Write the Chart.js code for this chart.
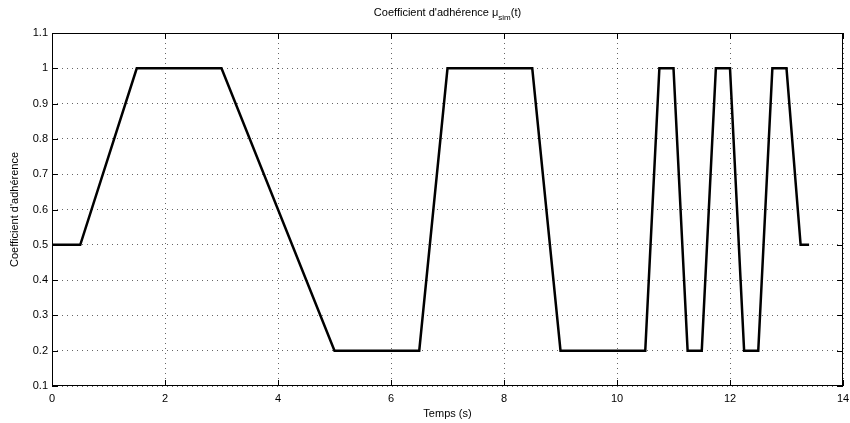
<!DOCTYPE html>
<html>
<head>
<meta charset="utf-8">
<script src="https://cdn.jsdelivr.net/npm/chart.js@4"></script>
<style>
  html, body { margin: 0; padding: 0; background: #fff; }
  #wrap { width: 850px; height: 423px; }
</style>
</head>
<body>
<div id="wrap"><canvas id="chart" width="850" height="423"></canvas></div>
<script>
/* ================= DATA ================= */
const timeS = [0, 0.5, 1.5, 3, 5, 6.5, 7, 8.5, 9, 10.5, 10.75, 11, 11.25, 11.5, 11.75, 12, 12.25, 12.5, 12.75, 13, 13.25, 13.4];
const mu = [0.5, 0.5, 1, 1, 0.2, 0.2, 1, 1, 0.2, 0.2, 1, 1, 0.2, 0.2, 1, 1, 0.2, 0.2, 1, 1, 0.5, 0.5];
const xTicks = [0, 2, 4, 6, 8, 10, 12, 14];
const yTicks = [0.1, 0.2, 0.3, 0.4, 0.5, 0.6, 0.7, 0.8, 0.9, 1, 1.1];

const FONT = "'Liberation Sans', Arial, sans-serif";

/* ================= PLUGINS ================= */
// box on all four sides + inward ticks (matlab look)
const boxPlugin = {
  id: "box",
  afterDraw(chart) {
    const { ctx, chartArea: a, scales } = chart;
    ctx.save();
    ctx.strokeStyle = "#000";
    ctx.lineWidth = 1;
    ctx.strokeRect(a.left + 0.5, a.top + 0.5, a.right - a.left - 1, a.bottom - a.top - 1);
    ctx.beginPath();
    xTicks.forEach(v => {
      const x = Math.round(scales.x.getPixelForValue(v)) + 0.5;
      ctx.moveTo(x, a.bottom); ctx.lineTo(x, a.bottom - 6);
      ctx.moveTo(x, a.top); ctx.lineTo(x, a.top + 6);
    });
    yTicks.forEach(v => {
      const y = Math.round(scales.y.getPixelForValue(v)) + 0.5;
      ctx.moveTo(a.left, y); ctx.lineTo(a.left + 6, y);
      ctx.moveTo(a.right, y); ctx.lineTo(a.right - 6, y);
    });
    ctx.stroke();
    ctx.restore();
  }
};

// title with the "sim" subscript
const titlePlugin = {
  id: "subTitle",
  afterDraw(chart) {
    const { ctx, chartArea: a } = chart;
    const main = "Coefficient d'adhérence μ";
    const sub = "sim";
    const tail = "(t)";
    ctx.save();
    ctx.fillStyle = "#000";
    ctx.textBaseline = "alphabetic";
    ctx.font = "11px " + FONT;
    const w1 = ctx.measureText(main).width;
    const w3 = ctx.measureText(tail).width;
    ctx.font = "8px " + FONT;
    const w2 = ctx.measureText(sub).width;
    let x = (a.left + a.right) / 2 - (w1 + w2 + w3) / 2;
    const y = 16;
    ctx.font = "11px " + FONT;
    ctx.fillText(main, x, y);
    x += w1;
    ctx.font = "8px " + FONT;
    ctx.fillText(sub, x, y + 4);
    x += w2;
    ctx.font = "11px " + FONT;
    ctx.fillText(tail, x, y);
    ctx.restore();
  }
};

/* ================= CHART ================= */
new Chart(document.getElementById("chart"), {
  type: "scatter",
  data: {
    datasets: [{
      data: timeS.map((t, i) => ({ x: t, y: mu[i] })),
      showLine: true,
      borderColor: "#000",
      borderWidth: 2.5,
      pointRadius: 0,
      tension: 0
    }]
  },
  options: {
    responsive: false,
    animation: false,
    layout: { padding: { top: 33, right: 0, left: 0, bottom: 0 } },
    plugins: { legend: { display: false }, tooltip: { enabled: false } },
    scales: {
      x: {
        type: "linear",
        min: 0, max: 14,
        afterBuildTicks: s => { s.ticks = xTicks.map(v => ({ value: v })); },
        afterFit: s => { s.height = 37; s.paddingRight = 7; s.paddingLeft = 0; },
        grid: { color: "rgba(0,0,0,0.6)", drawTicks: false, lineWidth: 1 },
        border: { display: false, dash: [1, 4] },
        ticks: { color: "#000", font: { family: FONT, size: 11 }, padding: 6, maxRotation: 0 },
        title: { display: true, text: "Temps (s)", color: "#000", font: { family: FONT, size: 11 }, padding: { top: 0, bottom: 2 } }
      },
      y: {
        min: 0.1, max: 1.1,
        afterBuildTicks: s => { s.ticks = yTicks.map(v => ({ value: v })); },
        afterFit: s => { s.width = 52; },
        grid: { color: "rgba(0,0,0,0.6)", drawTicks: false, lineWidth: 1 },
        border: { display: false, dash: [1, 4] },
        ticks: { color: "#000", font: { family: FONT, size: 11 }, padding: 4, callback: v => String(Math.round(v * 10) / 10) },
        title: { display: true, text: "Coefficient d'adhérence", color: "#000", font: { family: FONT, size: 11 }, padding: { top: 8, bottom: 0 } }
      }
    }
  },
  plugins: [boxPlugin, titlePlugin]
});
</script>
</body>
</html>
